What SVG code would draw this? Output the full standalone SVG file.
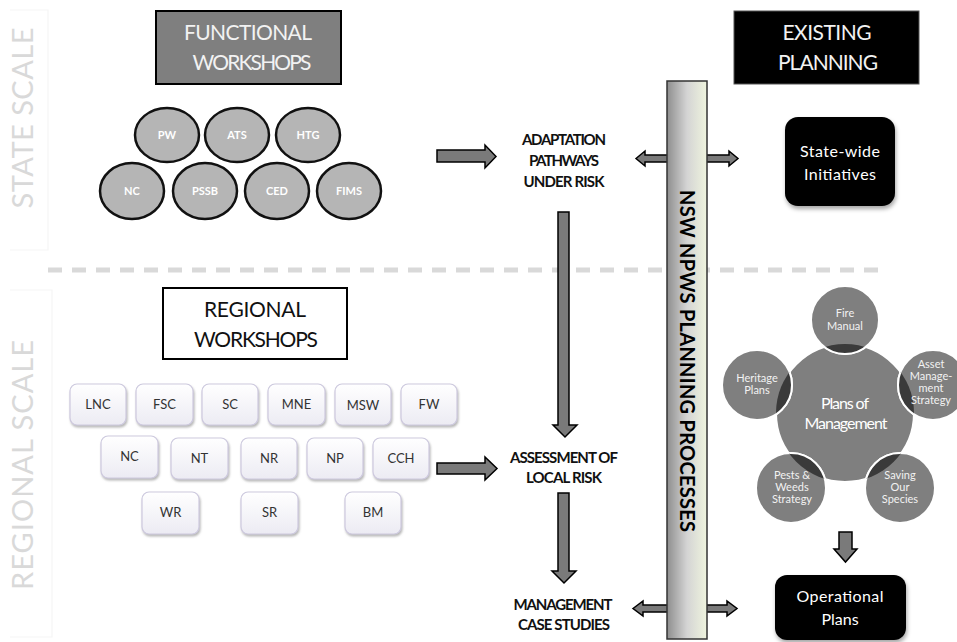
<svg xmlns="http://www.w3.org/2000/svg" width="957" height="642" viewBox="0 0 957 642">
<defs>
<style>
.scale{font-family:Lato,"Open Sans",sans-serif;font-size:29px;fill:#d9d9d9;text-anchor:middle}
.hdr{font-family:Lato,"Open Sans",sans-serif;font-size:21px;text-anchor:middle}
.lbl{font-family:Lato,"Open Sans",sans-serif;font-weight:bold;font-size:15px;fill:#111;text-anchor:middle}
.ell{fill:#b5b5b5;stroke:#111;stroke-width:2.5}
.etx{font-family:Lato,"Open Sans",sans-serif;font-weight:bold;font-size:11px;fill:#fff;text-anchor:middle}
.reg{fill:url(#regGrad);stroke:#cdc9de;stroke-width:1.2;filter:url(#sh)}
.rtx{font-family:Lato,"Open Sans",sans-serif;font-size:13px;fill:#333;text-anchor:middle}
.arr{fill:#7a7a7a;stroke:#000;stroke-width:1.5;stroke-linejoin:miter}
.blk{fill:#000;filter:url(#sh2)}
.wtx{font-family:Lato,"Open Sans",sans-serif;fill:#fff;text-anchor:middle}
.pc{fill:#7f7f7f;stroke:#fff;stroke-width:2}
.ptx{font-family:Lato,"Open Sans",sans-serif;font-size:11px;fill:#f2f2f2;text-anchor:middle}
.faint{stroke:#f5f5f5;stroke-width:1.2;fill:none}
</style>
<linearGradient id="regGrad" x1="0" y1="0" x2="0" y2="1">
<stop offset="0" stop-color="#ffffff"/>
<stop offset="1" stop-color="#ecebf3"/>
</linearGradient>
<linearGradient id="barGrad" x1="0" y1="0" x2="1" y2="0">
<stop offset="0" stop-color="#8e8e8e"/>
<stop offset="0.5" stop-color="#d4d4d4"/>
<stop offset="1" stop-color="#eff4de"/>
</linearGradient>
<filter id="sh" x="-20%" y="-20%" width="150%" height="160%">
<feDropShadow dx="1" dy="2" stdDeviation="1.2" flood-color="#888" flood-opacity="0.6"/>
</filter>
<filter id="sh2" x="-20%" y="-20%" width="150%" height="160%">
<feDropShadow dx="1" dy="3" stdDeviation="2" flood-color="#000" flood-opacity="0.35"/>
</filter>
<clipPath id="bigClip"><circle cx="845" cy="413" r="69"/></clipPath>
</defs>
<rect width="957" height="642" fill="#fff"/>

<g id="scale-labels">
<path class="faint" d="M10 10 H48 V250 H10"/>
<path class="faint" d="M10 290 H52 V637 H10"/>
<text class="scale" transform="translate(33,118) rotate(-90)" textLength="181">STATE SCALE</text>
<text class="scale" transform="translate(33,465) rotate(-90)" textLength="250">REGIONAL SCALE</text>
</g>

<line x1="48" y1="270" x2="878" y2="270" stroke="#d9d9d9" stroke-width="5" stroke-dasharray="14 10"/>

<g id="functional-workshops">
<rect x="156" y="11" width="185" height="73" fill="#7f7f7f" stroke="#000" stroke-width="2"/>
<text class="hdr" x="248" y="40" fill="#f2f2f2" textLength="128">FUNCTIONAL</text>
<text class="hdr" x="252" y="70" fill="#f2f2f2" textLength="119">WORKSHOPS</text>
</g>

<g id="fw-PW"><ellipse class="ell" cx="167" cy="135" rx="32" ry="27"/><text class="etx" x="167" y="139">PW</text></g>
<g id="fw-ATS"><ellipse class="ell" cx="237" cy="135" rx="32" ry="27"/><text class="etx" x="237" y="139">ATS</text></g>
<g id="fw-HTG"><ellipse class="ell" cx="308" cy="135" rx="32" ry="27"/><text class="etx" x="308" y="139">HTG</text></g>
<g id="fw-NC"><ellipse class="ell" cx="132" cy="191" rx="32" ry="28"/><text class="etx" x="132" y="195">NC</text></g>
<g id="fw-PSSB"><ellipse class="ell" cx="205" cy="191" rx="32" ry="28"/><text class="etx" x="205" y="195">PSSB</text></g>
<g id="fw-CED"><ellipse class="ell" cx="277" cy="191" rx="32" ry="28"/><text class="etx" x="277" y="195">CED</text></g>
<g id="fw-FIMS"><ellipse class="ell" cx="349" cy="191" rx="32" ry="28"/><text class="etx" x="349" y="195">FIMS</text></g>

<g id="regional-workshops">
<rect x="163" y="288" width="184" height="71" fill="#fff" stroke="#000" stroke-width="2"/>
<text class="hdr" x="255" y="317" fill="#111" textLength="102">REGIONAL</text>
<text class="hdr" x="256" y="347" fill="#111" textLength="124">WORKSHOPS</text>
</g>

<g id="rw-LNC"><rect class="reg" x="70" y="384" width="56" height="41" rx="7"/><text class="rtx" x="98" y="409">LNC</text></g>
<g id="rw-FSC"><rect class="reg" x="136" y="384" width="57" height="41" rx="7"/><text class="rtx" x="164.5" y="409">FSC</text></g>
<g id="rw-SC"><rect class="reg" x="202" y="384" width="56" height="41" rx="7"/><text class="rtx" x="230" y="409">SC</text></g>
<g id="rw-MNE"><rect class="reg" x="268" y="384" width="57" height="41" rx="7"/><text class="rtx" x="296.5" y="409">MNE</text></g>
<g id="rw-MSW"><rect class="reg" x="335" y="384" width="56" height="41" rx="7"/><text class="rtx" x="363" y="410">MSW</text></g>
<g id="rw-FW"><rect class="reg" x="401" y="384" width="56" height="41" rx="7"/><text class="rtx" x="429" y="409">FW</text></g>
<g id="rw-NC"><rect class="reg" x="101" y="436" width="57" height="42" rx="7"/><text class="rtx" x="129.5" y="461">NC</text></g>
<g id="rw-NT"><rect class="reg" x="171" y="438" width="57" height="41" rx="7"/><text class="rtx" x="199.5" y="463">NT</text></g>
<g id="rw-NR"><rect class="reg" x="241" y="438" width="56" height="41" rx="7"/><text class="rtx" x="269" y="463">NR</text></g>
<g id="rw-NP"><rect class="reg" x="307" y="438" width="56" height="41" rx="7"/><text class="rtx" x="335" y="463">NP</text></g>
<g id="rw-CCH"><rect class="reg" x="373" y="438" width="56" height="41" rx="7"/><text class="rtx" x="401" y="463">CCH</text></g>
<g id="rw-WR"><rect class="reg" x="142" y="492" width="57" height="42" rx="7"/><text class="rtx" x="170.5" y="517">WR</text></g>
<g id="rw-SR"><rect class="reg" x="241" y="492" width="57" height="42" rx="7"/><text class="rtx" x="269.5" y="517">SR</text></g>
<g id="rw-BM"><rect class="reg" x="345" y="492" width="56" height="42" rx="7"/><text class="rtx" x="373" y="517">BM</text></g>

<g id="adaptation">
<text class="lbl" x="564" y="145" textLength="84">ADAPTATION</text>
<text class="lbl" x="564" y="166" textLength="70">PATHWAYS</text>
<text class="lbl" x="564" y="187" textLength="81">UNDER RISK</text>
</g>
<g id="assessment">
<text class="lbl" x="564" y="463" textLength="108">ASSESSMENT OF</text>
<text class="lbl" x="564" y="483" textLength="76">LOCAL RISK</text>
</g>
<g id="management">
<text class="lbl" x="563" y="610" textLength="99">MANAGEMENT</text>
<text class="lbl" x="564" y="630" textLength="92">CASE STUDIES</text>
</g>

<g id="connectors">
<polygon class="arr" points="437,150 485,150 485,145 496,156.5 485,168 485,162 437,162"/>
<polygon class="arr" points="437,463 485,463 485,457 497,468.5 485,480 485,474 437,474"/>
<polygon class="arr" points="558,212 569,212 569,425 577,425 565,437 553,425 558,425"/>
<polygon class="arr" points="558,493 569,493 569,571 576,571 564,583 552,571 558,571"/>
<polygon class="arr" points="636,158.5 645,151 645,155 729,155 729,151 738,158.5 729,166 729,162 645,162 645,166"/>
<polygon class="arr" points="633,608.5 643,601 643,605 727,605 727,601 737,608.5 727,616 727,612 643,612 643,616"/>
<polygon class="arr" points="839,532 852,532 852,549 857,549 845.5,562 834,549 839,549"/>
</g>

<g id="nsw-bar">
<rect x="667" y="81" width="40" height="558" fill="url(#barGrad)" stroke="#333" stroke-width="1.5"/>
<text transform="translate(680,361) rotate(90)" font-family="Lato,'Open Sans',sans-serif" font-weight="bold" font-size="20" fill="#000" text-anchor="middle" textLength="342">NSW NPWS PLANNING PROCESSES</text>
</g>

<g id="existing-planning">
<rect x="734" y="11" width="185" height="73" fill="#000" stroke="#555" stroke-width="1"/>
<text class="hdr" x="827" y="40" fill="#f2f2f2" textLength="89">EXISTING</text>
<text class="hdr" x="828" y="70" fill="#f2f2f2" textLength="100">PLANNING</text>
</g>

<g id="state-wide">
<rect class="blk" x="785" y="117" width="110" height="89" rx="13"/>
<text class="wtx" x="840" y="157" font-size="16" textLength="80">State-wide</text>
<text class="wtx" x="840" y="180" font-size="16" textLength="72">Initiatives</text>
</g>

<g id="plans-of-management">
<circle class="pc" cx="845" cy="413" r="69"/>
<circle class="pc" cx="845" cy="320" r="34"/>
<circle class="pc" cx="757" cy="385" r="35"/>
<circle class="pc" cx="933" cy="385" r="35"/>
<circle class="pc" cx="791" cy="488" r="35"/>
<circle class="pc" cx="900" cy="488" r="35"/>
<g clip-path="url(#bigClip)" fill="#3a3a3a" stroke="#fff" stroke-width="2">
<circle cx="845" cy="320" r="34"/>
<circle cx="757" cy="385" r="35"/>
<circle cx="933" cy="385" r="35"/>
<circle cx="791" cy="488" r="35"/>
<circle cx="900" cy="488" r="35"/>
</g>
<text class="wtx" x="845" y="409" font-size="16" fill="#f2f2f2" textLength="48">Plans of</text>
<text class="wtx" x="846" y="429" font-size="16" fill="#f2f2f2" textLength="83">Management</text>
<text class="ptx" x="845" y="317">Fire</text>
<text class="ptx" x="845" y="330">Manual</text>
<text class="ptx" x="757" y="382">Heritage</text>
<text class="ptx" x="757" y="394">Plans</text>
<text class="ptx" x="931" y="368">Asset</text>
<text class="ptx" x="931" y="380">Manage-</text>
<text class="ptx" x="931" y="392">ment</text>
<text class="ptx" x="931" y="404">Strategy</text>
<text class="ptx" x="792" y="479">Pests &amp;</text>
<text class="ptx" x="792" y="491">Weeds</text>
<text class="ptx" x="792" y="503">Strategy</text>
<text class="ptx" x="900" y="479">Saving</text>
<text class="ptx" x="900" y="491">Our</text>
<text class="ptx" x="900" y="503">Species</text>
</g>

<g id="operational-plans">
<rect class="blk" x="775" y="575" width="131" height="65" rx="12"/>
<text class="wtx" x="840" y="602" font-size="16" textLength="87">Operational</text>
<text class="wtx" x="840" y="625" font-size="16">Plans</text>
</g>
</svg>
